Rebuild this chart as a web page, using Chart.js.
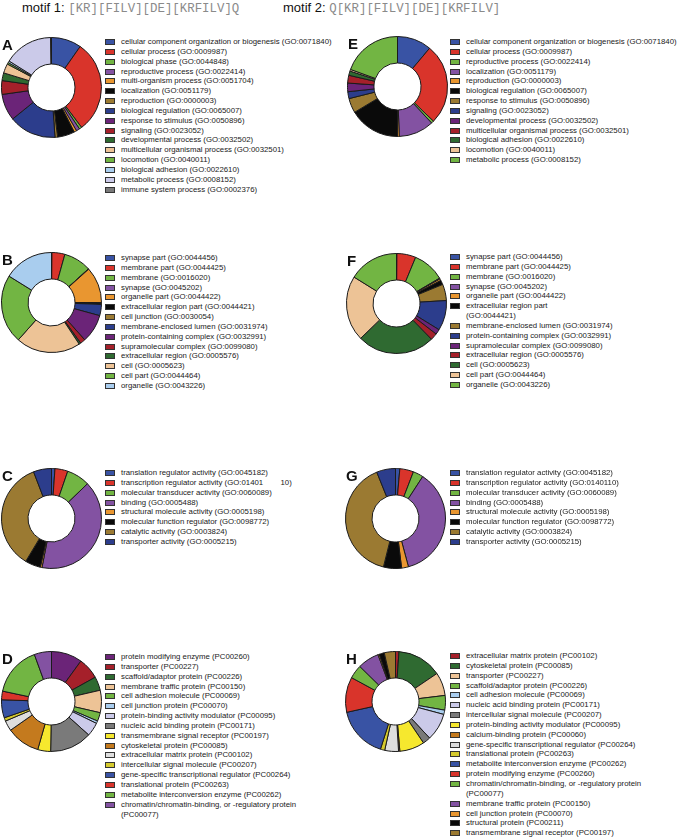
<!DOCTYPE html>
<html>
<head>
<meta charset="utf-8">
<script src="https://cdn.jsdelivr.net/npm/chart.js@4.4.0/dist/chart.umd.min.js"></script>
<style>
    body { margin: 0; width: 680px; height: 838px; background: #fff; position: relative; overflow: hidden;
           font-family: "Liberation Sans", Arial, sans-serif; -webkit-font-smoothing: antialiased; }
    .title { position: absolute; top: 0; font-size: 13px; line-height: 15px; color: #111; white-space: nowrap; }
    .title .seq { font-family: "Liberation Mono", monospace; color: #8a8a8a; font-size: 12.4px; }
    .letter { position: absolute; font-weight: bold; font-size: 15px; line-height: 15px; color: #111; }
    canvas { position: absolute; }
    .legend { position: absolute; font-size: 7.8px; line-height: 9.85px; color: #1a1a1a; white-space: pre; }
    .legend .item { display: flex; align-items: flex-start; }
    .legend .swatch { width: 8px; height: 4px; border: 1px solid #333; margin: 2px 6px 0 0; flex: none; }
</style>
</head>
<body>
<div class="title" style="left:22px">motif 1: <span class="seq">[KR][FILV][DE][KRFILV]Q</span></div>
<div class="title" style="left:283px">motif 2: <span class="seq">Q[KR][FILV][DE][KRFILV]</span></div>

<script>
// Colours used by the slices
const BLUE = '#3953a4', RED = '#d9342b', GREEN = '#72b543', PURPLE = '#8352a2', ORANGE = '#e99630',
      BLACK = '#0a0a0a', BROWN = '#9b7a32', NAVY = '#2c3d8c', DPURPLE = '#6b2478', DRED = '#a5202a',
      DGREEN = '#2f6a31', TAN = '#edc396', LBLUE = '#a9cdee', LAVENDER = '#cbcae9', GRAY = '#7a7a7a',
      YELLOW = '#f6e82e', OBROWN = '#c47a1e', LGRAY = '#dedede', OLIVE = '#d5ca2e';

// A - biological process, motif 1
const labelsA = ['cellular component organization or biogenesis (GO:0071840)', 'cellular process (GO:0009987)',
    'biological phase (GO:0044848)', 'reproductive process (GO:0022414)', 'multi-organism process (GO:0051704)',
    'localization (GO:0051179)', 'reproduction (GO:0000003)', 'biological regulation (GO:0065007)',
    'response to stimulus (GO:0050896)', 'signaling (GO:0023052)', 'developmental process (GO:0032502)',
    'multicellular organismal process (GO:0032501)', 'locomotion (GO:0040011)', 'biological adhesion (GO:0022610)',
    'metabolic process (GO:0008152)', 'immune system process (GO:0002376)'];
const valuesA = [35, 108, 3, 4, 3, 20, 3, 55, 31, 16, 9, 11, 2, 2, 57, 1];
const colorsA = [BLUE, RED, GREEN, PURPLE, ORANGE, BLACK, BROWN, NAVY, DPURPLE, DRED, DGREEN, TAN, GREEN, LBLUE, LAVENDER, GRAY];

// E - biological process, motif 2
const labelsE = ['cellular component organization or biogenesis (GO:0071840)', 'cellular process (GO:0009987)',
    'reproductive process (GO:0022414)', 'localization (GO:0051179)', 'reproduction (GO:0000003)',
    'biological regulation (GO:0065007)', 'response to stimulus (GO:0050896)', 'signaling (GO:0023052)',
    'developmental process (GO:0032502)', 'multicellular organismal process (GO:0032501)',
    'biological adhesion (GO:0022610)', 'locomotion (GO:0040011)', 'metabolic process (GO:0008152)'];
const valuesE = [40, 94, 3, 41, 2, 59, 17, 8, 10, 9, 5, 2, 70];
const colorsE = [BLUE, RED, GREEN, PURPLE, ORANGE, BLACK, BROWN, NAVY, DPURPLE, DRED, DGREEN, TAN, GREEN];

// B - cellular component, motif 1
const labelsB = ['synapse part (GO:0044456)', 'membrane part (GO:0044425)', 'membrane (GO:0016020)',
    'synapse (GO:0045202)', 'organelle part (GO:0044422)', 'extracellular region part (GO:0044421)',
    'cell junction (GO:0030054)', 'membrane-enclosed lumen (GO:0031974)', 'protein-containing complex (GO:0032991)',
    'supramolecular complex (GO:0099080)', 'extracellular region (GO:0005576)', 'cell (GO:0005623)',
    'cell part (GO:0044464)', 'organelle (GO:0043226)'];
const valuesB = [0.5, 15, 32, 0.5, 42, 1, 1, 13, 33, 6, 2, 75, 80, 58];
const colorsB = [BLUE, RED, GREEN, PURPLE, ORANGE, BLACK, BROWN, NAVY, DPURPLE, DRED, DGREEN, TAN, GREEN, LBLUE];

// F - cellular component, motif 2
const labelsF = ['synapse part (GO:0044456)', 'membrane part (GO:0044425)', 'membrane (GO:0016020)',
    'synapse (GO:0045202)', 'organelle part (GO:0044422)', 'extracellular region part\n(GO:0044421)',
    'membrane-enclosed lumen (GO:0031974)', 'protein-containing complex (GO:0032991)',
    'supramolecular complex (GO:0099080)', 'extracellular region (GO:0005576)', 'cell (GO:0005623)',
    'cell part (GO:0044464)', 'organelle (GO:0043226)'];
const valuesF = [0.5, 22, 37, 1, 2, 5, 19, 35, 6, 8, 90, 76, 58];
const colorsF = [BLUE, RED, GREEN, PURPLE, ORANGE, BLACK, BROWN, NAVY, DPURPLE, DRED, DGREEN, TAN, GREEN];

// C / G - molecular function
const labelsC = ['translation regulator activity (GO:0045182)', 'transcription regulator activity (GO:01401        10)',
    'molecular transducer activity (GO:0060089)', 'binding (GO:0005488)', 'structural molecule activity (GO:0005198)',
    'molecular function regulator (GO:0098772)', 'catalytic activity (GO:0003824)', 'transporter activity (GO:0005215)'];
const valuesC = [4, 15, 27, 145, 2, 18, 128, 21];
const labelsG = ['translation regulator activity (GO:0045182)', 'transcription regulator activity (GO:0140110)',
    'molecular transducer activity (GO:0060089)', 'binding (GO:0005488)', 'structural molecule activity (GO:0005198)',
    'molecular function regulator (GO:0098772)', 'catalytic activity (GO:0003824)', 'transporter activity (GO:0005215)'];
const valuesG = [5, 16, 12, 132, 8, 21, 144, 22];
const colorsCG = [BLUE, RED, GREEN, PURPLE, ORANGE, BLACK, BROWN, NAVY];

// D - protein class, motif 1
const labelsD = ['protein modifying enzyme (PC00260)', 'transporter (PC00227)', 'scaffold/adaptor protein (PC00226)',
    'membrane traffic protein (PC00150)', 'cell adhesion molecule (PC00069)', 'cell junction protein (PC00070)',
    'protein-binding activity modulator (PC00095)', 'nucleic acid binding protein (PC00171)',
    'transmembrane signal receptor (PC00197)', 'cytoskeletal protein (PC00085)', 'extracellular matrix protein (PC00102)',
    'intercellular signal molecule (PC00207)', 'gene-specific transcriptional regulator (PC00264)',
    'translational protein (PC00263)', 'metabolite interconversion enzyme (PC00262)',
    'chromatin/chromatin-binding, or -regulatory protein\n(PC00077)'];
const valuesD = [36, 25, 16, 26, 10, 3, 16, 49, 15, 39, 12, 4, 21, 10, 58, 20];
const colorsD = [DPURPLE, DRED, DGREEN, TAN, GREEN, LBLUE, LAVENDER, GRAY, YELLOW, OBROWN, LGRAY, OLIVE, BLUE, RED, GREEN, PURPLE];

// H - protein class, motif 2
const labelsH = ['extracellular matrix protein (PC00102)', 'cytoskeletal protein (PC00085)', 'transporter (PC00227)',
    'scaffold/adaptor protein (PC00226)', 'cell adhesion molecule (PC00069)', 'nucleic acid binding protein (PC00171)',
    'intercellular signal molecule (PC00207)', 'protein-binding activity modulator (PC00095)',
    'calcium-binding protein (PC00060)', 'gene-specific transcriptional regulator (PC00264)',
    'translational protein (PC00263)', 'metabolite interconversion enzyme (PC00262)',
    'protein modifying enzyme (PC00260)', 'chromatin/chromatin-binding, or -regulatory protein\n(PC00077)',
    'membrane traffic protein (PC00150)', 'cell junction protein (PC00070)', 'structural protein (PC00211)',
    'transmembrane signal receptor (PC00197)'];
const valuesH = [4, 52, 27, 17, 5, 32, 9, 29, 1.5, 16, 5, 60, 41, 16, 25, 1.5, 6, 13];
const colorsH = [DRED, DGREEN, TAN, GREEN, LBLUE, LAVENDER, GRAY, YELLOW, OBROWN, LGRAY, OLIVE, BLUE, RED, GREEN, PURPLE, ORANGE, BLACK, BROWN];

// letter, doughnut centre, legend left / first row centre
const panels = [
    { letter: 'A', cx: 51, cy: 87, lx: 105, ly: 42, labels: labelsA, values: valuesA, colors: colorsA },
    { letter: 'E', cx: 397, cy: 86, lx: 450, ly: 42, labels: labelsE, values: valuesE, colors: colorsE },
    { letter: 'B', cx: 51, cy: 302, lx: 105, ly: 258, labels: labelsB, values: valuesB, colors: colorsB },
    { letter: 'F', cx: 396, cy: 303, lx: 450, ly: 257, labels: labelsF, values: valuesF, colors: colorsF },
    { letter: 'C', cx: 51, cy: 518, lx: 105, ly: 473, labels: labelsC, values: valuesC, colors: colorsCG },
    { letter: 'G', cx: 395, cy: 518, lx: 450, ly: 473, labels: labelsG, values: valuesG, colors: colorsCG },
    { letter: 'D', cx: 51, cy: 701, lx: 105, ly: 657, labels: labelsD, values: valuesD, colors: colorsD },
    { letter: 'H', cx: 395, cy: 701, lx: 450, ly: 656, labels: labelsH, values: valuesH, colors: colorsH }
];

const SIZE = 101;

panels.forEach(p => {
    const canvas = document.createElement('canvas');
    canvas.width = SIZE;
    canvas.height = SIZE;
    canvas.style.left = (p.cx - SIZE / 2) + 'px';
    canvas.style.top = (p.cy - SIZE / 2) + 'px';
    document.body.appendChild(canvas);

    new Chart(canvas, {
        type: 'doughnut',
        data: {
            labels: p.labels,
            datasets: [{
                data: p.values,
                backgroundColor: p.colors,
                borderColor: '#1b1b1b',
                borderWidth: 1
            }]
        },
        options: {
            responsive: false,
            animation: false,
            cutout: '47%',
            plugins: { legend: { display: false }, tooltip: { enabled: false } }
        }
    });

    const letter = document.createElement('div');
    letter.className = 'letter';
    letter.textContent = p.letter;
    letter.style.left = (p.cx - 49) + 'px';
    letter.style.top = (p.cy - 50) + 'px';
    document.body.appendChild(letter);

    const legend = document.createElement('div');
    legend.className = 'legend';
    legend.style.left = p.lx + 'px';
    legend.style.top = (p.ly - 5) + 'px';
    legend.innerHTML = p.labels.map((label, i) =>
        `<div class="item"><span class="swatch" style="background:${p.colors[i]}"></span><span>${label}</span></div>`
    ).join('');
    document.body.appendChild(legend);
});
</script>
</body>
</html>
